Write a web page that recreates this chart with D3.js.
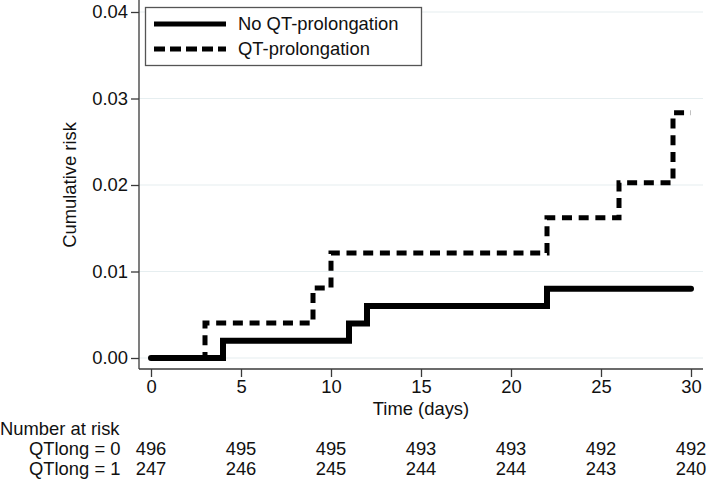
<!DOCTYPE html>
<html>
<head>
<meta charset="utf-8">
<script src="https://cdn.jsdelivr.net/npm/d3@7"></script>
<style>
  body { margin: 0; background: #fff; }
  svg { display: block; font-family: "Liberation Sans", Arial, sans-serif; }
</style>
</head>
<body>
<svg id="chart" width="707" height="480"></svg>
<script>
// ---- data ----
const noQTTimes  = [0, 4, 11, 12, 22, 30];
const noQTRisk   = [0, 0.002, 0.004, 0.006, 0.008, 0.008];
const qtTimes    = [0, 3, 9, 10, 22, 26, 29, 30];
const qtRisk     = [0, 0.00405, 0.0081, 0.01215, 0.0162, 0.02025, 0.02834, 0.02834];
const xTicks     = [0, 5, 10, 15, 20, 25, 30];
const yTicks     = [0, 0.01, 0.02, 0.03, 0.04];
const riskLabels = ["QTlong = 0", "QTlong = 1"];
const atRisk0    = [496, 495, 495, 493, 493, 492, 492];
const atRisk1    = [247, 246, 245, 244, 244, 243, 240];
const seriesNames = ["No QT-prolongation", "QT-prolongation"];

(function () {
const svg = d3.select("#chart");
const x = d3.scaleLinear().domain([0, 30]).range([151, 691]);
const y = d3.scaleLinear().domain([0, 0.04]).range([358, 12]);
const pLeft = 139, pRight = 703, pBottom = 369, pTop = 0;
const axisColor = "#3a3a3a";
const fs = 18.4;

// gridlines
svg.append("g").selectAll("line").data(yTicks).join("line")
  .attr("x1", pLeft).attr("x2", pRight)
  .attr("y1", d => y(d)).attr("y2", d => y(d))
  .attr("stroke", "#e6eef0").attr("stroke-width", 1.2);

// y axis
const yAxis = svg.append("g").attr("transform", `translate(${pLeft},0)`)
  .call(d3.axisLeft(y).tickValues(yTicks).tickFormat(d3.format(".2f")).tickSize(8).tickPadding(3));
yAxis.select(".domain").attr("d", `M0,${pTop}V${pBottom}`);
// x axis
const xAxis = svg.append("g").attr("transform", `translate(0,${pBottom})`)
  .call(d3.axisBottom(x).tickValues(xTicks).tickSize(8).tickPadding(3));
xAxis.select(".domain").attr("d", `M${pLeft},0H${pRight}`);
[yAxis, xAxis].forEach(g => {
  g.selectAll(".domain").attr("stroke", axisColor).attr("stroke-width", 1.3);
  g.selectAll(".tick line").attr("stroke", axisColor).attr("stroke-width", 1.3);
  g.selectAll(".tick text").attr("fill", "#111").attr("font-size", fs)
    .attr("font-family", "Liberation Sans, Arial, sans-serif");
});

// axis titles
svg.append("text").attr("x", (x(0) + x(30)) / 2).attr("y", 414.5)
  .attr("text-anchor", "middle").attr("font-size", fs).attr("fill", "#111").text("Time (days)");
svg.append("text").attr("transform", `translate(76,${(y(0)+y(0.04))/2}) rotate(-90)`)
  .attr("text-anchor", "middle").attr("font-size", fs).attr("fill", "#111").text("Cumulative risk");

// step lines
const line = d3.line().curve(d3.curveStepAfter).x(d => x(d[0])).y(d => y(d[1]));
const qtData = qtTimes.map((t, i) => [t, qtRisk[i]]);
const noQTData = noQTTimes.map((t, i) => [t, noQTRisk[i]]);
svg.append("path").datum(qtData).attr("d", line)
  .attr("fill", "none").attr("stroke", "#000").attr("stroke-width", 5)
  .attr("stroke-dasharray", "10,6.7");
svg.append("path").datum(noQTData).attr("d", line)
  .attr("fill", "none").attr("stroke", "#000").attr("stroke-width", 6)
  .attr("stroke-linecap", "round").attr("stroke-linejoin", "miter");

// legend
const lg = svg.append("g");
lg.append("rect").attr("x", 145.5).attr("y", 7.5).attr("width", 276).attr("height", 58)
  .attr("fill", "#fff").attr("stroke", "#555").attr("stroke-width", 1.3);
seriesNames.forEach((name, i) => {
  const yy = 24 + i * 25;
  lg.append("line").attr("x1", 154).attr("x2", 226).attr("y1", yy).attr("y2", yy)
    .attr("stroke", "#000").attr("stroke-width", 5)
    .attr("stroke-dasharray", i === 1 ? "11,5" : null);
  lg.append("text").attr("x", 238).attr("y", yy).attr("dy", "0.35em")
    .attr("font-size", fs).attr("fill", "#111").text(name);
});

// number at risk table
svg.append("text").attr("x", 0).attr("y", 435).attr("font-size", fs).attr("fill", "#111")
  .text("Number at risk");
[atRisk0, atRisk1].forEach((row, r) => {
  const by = 455 + r * 20;
  svg.append("text").attr("x", 29).attr("y", by).attr("font-size", fs).attr("fill", "#111")
    .text(riskLabels[r]);
  svg.append("g").selectAll("text").data(row).join("text")
    .attr("x", (d, i) => x(xTicks[i])).attr("y", by)
    .attr("text-anchor", "middle").attr("font-size", fs).attr("fill", "#111")
    .text(d => d);
});
})();
</script>
</body>
</html>
